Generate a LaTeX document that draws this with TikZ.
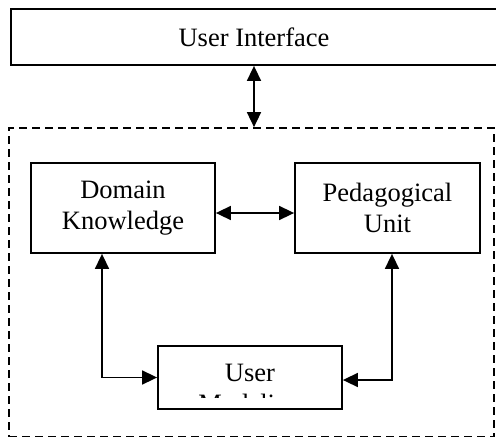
\documentclass[tikz,border=0pt]{standalone}
\usepackage{fontspec}
\setmainfont{Liberation Serif}
\usetikzlibrary{arrows.meta}

\begin{document}
\begin{tikzpicture}[x=1pt,y=1pt,yscale=-1,
  box/.style={draw,line width=1.8pt,rectangle,inner sep=0pt,align=center,
    font=\fontsize{26.5}{31}\selectfont},
  dashbox/.style={draw,line width=1.5pt,dash pattern=on 8pt off 5pt,rectangle,inner sep=0pt},
  link/.style={line width=1.6pt,{Triangle[length=15pt,width=14pt]}-{Triangle[length=15pt,width=14pt]}}]
\useasboundingbox (0,0) rectangle (496,437);

%Shape: Rectangle [User Interface]
\node [box,minimum width=486,minimum height=56] (ui) at (254,37) {User Interface};
%Shape: Rectangle [dashed frame]
\node [dashbox,minimum width=485,minimum height=308.6] (core) at (251.5,282.2) {};
%Shape: Rectangle [Domain Knowledge]
\node [box,minimum width=184,minimum height=90] (dk) at (123,208) {Domain\\Knowledge};
%Shape: Rectangle [Pedagogical Unit]
\node [box,minimum width=185,minimum height=90] (pu) at (387.5,208) {Pedagogical\\Unit};
%Shape: Rectangle [User Modeling]
\node [box,minimum width=184,minimum height=63] (um) at (250,377.5) {};

% Text Node (cut off by the box)
\begin{scope}
\clip (um.north west) rectangle ([yshift=-12pt]um.south east);
\node [align=center,inner sep=0pt,font=\fontsize{26.5}{31}\selectfont] (umtext) at (250,391) {User\\Modeling};
\end{scope}

%Straight Lines
\draw [link] (ui.south) -- (ui.south |- core.north);
%Straight Lines
\draw [link] ([yshift=5pt]dk.east) -- ([yshift=5pt]pu.west);
%Straight Lines
\draw [link] ([xshift=-21pt]dk.south) |- (um.west);
%Straight Lines
\draw [link] ([xshift=4.5pt]pu.south) |- ([yshift=2.5pt]um.east);

\end{tikzpicture}
\end{document}
